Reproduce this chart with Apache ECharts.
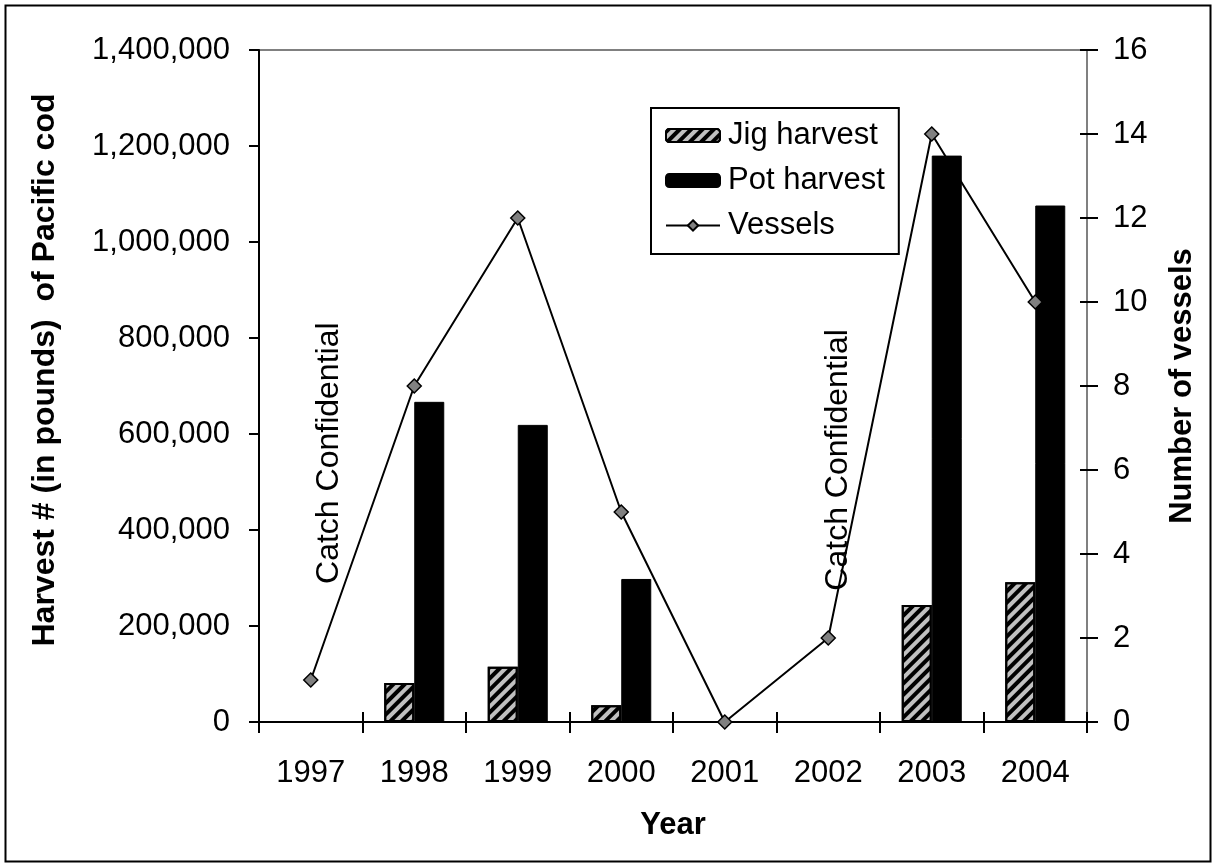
<!DOCTYPE html>
<html>
<head>
<meta charset="utf-8">
<script src="https://cdn.jsdelivr.net/npm/echarts@6/dist/echarts.min.js"></script>
<style>
html,body{margin:0;padding:0;background:#fff;}
#c{width:1212px;height:863px;}
</style>
</head>
<body>
<div id="c"></div>
<script>
const years = ['1997','1998','1999','2000','2001','2002','2003','2004'];
const jigHarvest = [null, 81000, 115000, 35000, null, null, 244000, 291000];
const potHarvest = [null, 667000, 619000, 298000, null, null, 1180000, 1076000];
const vessels = [1, 8, 12, 5, 0, 2, 14, 10];
const noteYears = ['1997', '2002'];
const noteLevels = [560000, 546000];
const noteText = 'Catch Confidential';
const leftTicks = { min: 0, max: 1400000, interval: 200000 };
const rightTicks = { min: 0, max: 16, interval: 2 };

const FONT = '"Liberation Sans", Arial, sans-serif';
const FS = 31;

const chart = echarts.init(document.getElementById('c'), null, { renderer: 'canvas' });

const jigDecal = {
  symbol: 'rect',
  symbolSize: 1,
  color: '#000',
  dashArrayX: [1, 0],
  dashArrayY: [4, 4],
  rotation: -Math.PI / 4
};

chart.setOption({
  animation: false,
  backgroundColor: '#fff',
  textStyle: { fontFamily: FONT },
  grid: {
    left: 259, right: 125, top: 50, bottom: 141,
    show: true, borderColor: '#808080', borderWidth: 2, backgroundColor: 'transparent'
  },
  legend: {
    orient: 'vertical',
    left: 651, top: 108,
    borderColor: '#000', borderWidth: 2,
    padding: [12, 14, 13, 14],
    itemGap: 14,
    itemWidth: 54, itemHeight: 13,
    textStyle: { fontFamily: FONT, fontSize: FS, color: '#000', lineHeight: 31, padding: [0, 0, 0, 3] },
    data: ['Jig harvest', 'Pot harvest', 'Vessels']
  },
  xAxis: [
    {
      type: 'category', data: years, position: 'bottom',
      name: 'Year', nameLocation: 'middle', nameGap: 88,
      nameTextStyle: { fontFamily: FONT, fontSize: FS, fontWeight: 'bold', color: '#000' },
      axisLine: { show: true, onZero: false, lineStyle: { color: '#000', width: 2 } },
      axisTick: { show: true, length: 11, lineStyle: { color: '#000', width: 2 } },
      axisLabel: { fontFamily: FONT, fontSize: FS, color: '#000', margin: 36 },
      splitLine: { show: false }
    },
    {
      type: 'category', data: years, position: 'bottom',
      axisLine: { show: false },
      axisTick: { show: true, inside: true, length: 10, lineStyle: { color: '#000', width: 2 } },
      axisLabel: { show: false },
      splitLine: { show: false }
    }
  ],
  yAxis: [
    {
      type: 'value', position: 'left',
      min: leftTicks.min, max: leftTicks.max, interval: leftTicks.interval,
      name: 'Harvest # (in pounds)  of Pacific cod', nameLocation: 'middle', nameGap: 198,
      nameTextStyle: { fontFamily: FONT, fontSize: 32, fontWeight: 'bold', color: '#000', padding: [0, 0, 0, 32] },
      axisLine: { show: true, lineStyle: { color: '#000', width: 2 } },
      axisTick: { show: true, length: 10, lineStyle: { color: '#000', width: 2 } },
      axisLabel: {
        fontFamily: FONT, fontSize: FS, color: '#000', margin: 29,
        formatter: v => v.toLocaleString('en-US')
      },
      splitLine: { show: false }
    },
    {
      type: 'value', position: 'right',
      min: rightTicks.min, max: rightTicks.max, interval: rightTicks.interval,
      name: 'Number of vessels', nameLocation: 'middle', nameGap: 80, nameRotate: 90,
      nameTextStyle: { fontFamily: FONT, fontSize: FS, fontWeight: 'bold', color: '#000' },
      axisLine: { show: false },
      axisTick: { show: true, length: 11, lineStyle: { color: '#000', width: 2 } },
      axisLabel: { fontFamily: FONT, fontSize: FS, color: '#000', margin: 26 },
      splitLine: { show: false }
    },
    {
      type: 'value', position: 'right',
      min: rightTicks.min, max: rightTicks.max, interval: rightTicks.interval,
      axisLine: { show: false },
      axisTick: { show: true, inside: true, length: 7, lineStyle: { color: '#000', width: 2 } },
      axisLabel: { show: false },
      splitLine: { show: false }
    }
  ],
  series: [
    {
      name: 'Jig harvest', type: 'bar', xAxisIndex: 0, yAxisIndex: 0,
      data: jigHarvest, barWidth: 30, barGap: '0%',
      itemStyle: { color: '#c0c0c0', borderColor: '#000', borderWidth: 2, decal: jigDecal }
    },
    {
      name: 'Pot harvest', type: 'bar', xAxisIndex: 0, yAxisIndex: 0,
      data: potHarvest, barWidth: 30, barGap: '0%',
      itemStyle: { color: '#000', borderColor: '#000', borderWidth: 1 }
    },
    {
      name: 'Vessels', type: 'line', xAxisIndex: 0, yAxisIndex: 1,
      data: vessels,
      symbol: 'diamond', symbolSize: 14, showAllSymbol: true,
      lineStyle: { color: '#000', width: 2 },
      itemStyle: { color: '#808080', borderColor: '#000', borderWidth: 1.5 },
      z: 5
    },
    {
      name: 'notes', type: 'scatter', xAxisIndex: 0, yAxisIndex: 0,
      symbolSize: 0, silent: true,
      itemStyle: { opacity: 1 },
      data: noteYears.map((y, i) => ({
        value: [y, noteLevels[i]],
        label: { offset: [0, i === 0 ? 18 : 10] }
      })),
      label: {
        show: true, position: 'inside', rotate: 90,
        formatter: noteText,
        fontFamily: FONT, fontSize: 32, color: '#000', opacity: 1
      },
      z: 6
    }
  ],
  graphic: [
    {
      type: 'rect', left: 3, top: 3, silent: true,
      shape: { width: 1205, height: 856 },
      style: { fill: 'none', stroke: '#000', lineWidth: 2 }
    }
  ]
});
</script>
</body>
</html>
